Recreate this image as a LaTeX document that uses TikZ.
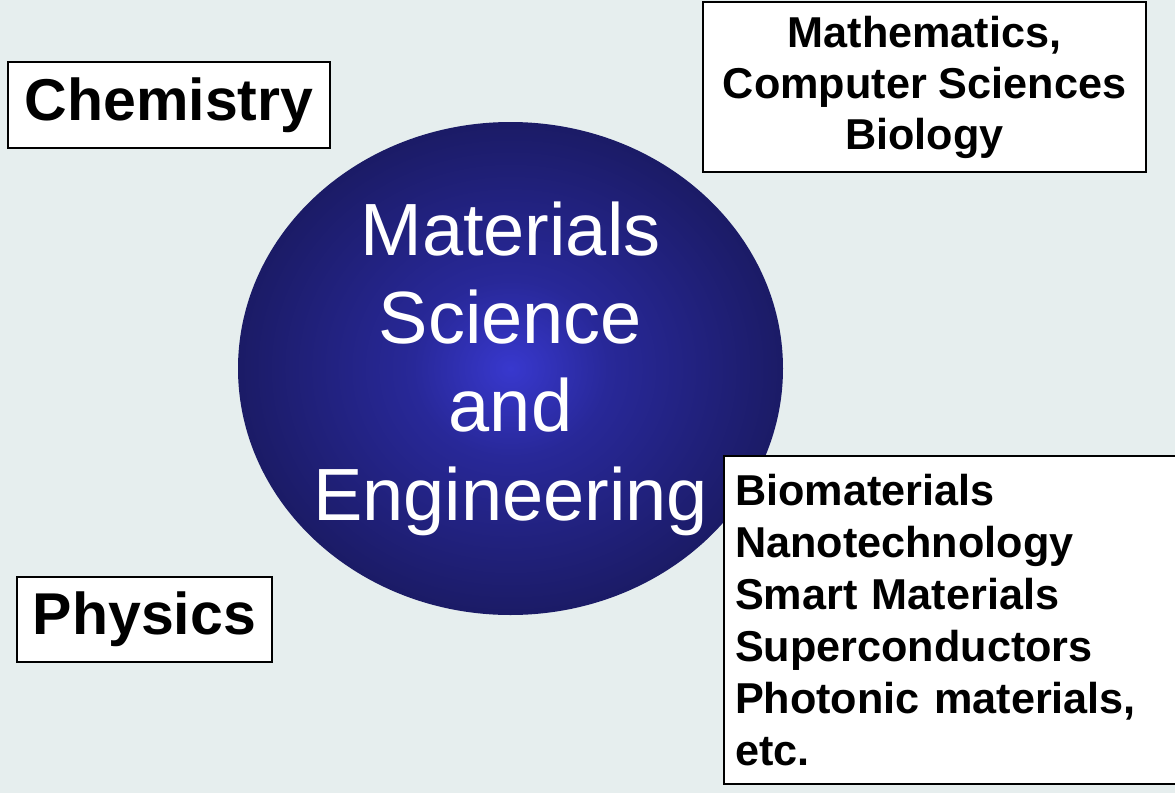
\documentclass[tikz,border=0pt]{standalone}
\usepackage{fontspec}
\setmainfont{Liberation Sans}
\usetikzlibrary{shapes.geometric}
\definecolor{paper}{RGB}{230,238,238}
\definecolor{discrim}{RGB}{27,27,102}
\definecolor{discmid}{RGB}{40,40,152}
\definecolor{disccore}{RGB}{56,56,206}
\pgfdeclareradialshading{discglow}{\pgfpoint{0bp}{0bp}}{color(0bp)=(disccore); color(9bp)=(discmid); color(25bp)=(discrim); color(50bp)=(discrim)}
\tikzset{
  fieldbox/.style = {shape=rectangle, draw, line width=1pt,
                     fill=white, inner sep=0pt,
                     font=\fontsize{29.5}{35}\selectfont\bfseries},
  topicbox/.style = {fieldbox, align=center,
                     font=\fontsize{21.6}{25.5}\selectfont\bfseries},
  listbox/.style  = {fieldbox, align=left, inner xsep=5.5pt,
                     font=\fontsize{21.6}{26}\selectfont\bfseries},
  hub/.style      = {ellipse, shading=discglow, inner ysep=0pt,
                     inner xsep=-2.5pt, text=white, align=center,
                     font=\fontsize{37}{44.2}\selectfont},
}
\begin{document}
\begin{tikzpicture}[x=0.5pt, y=-0.5pt]
    \useasboundingbox (0,0) rectangle (1175,793);
    \fill[paper] (0,0) rectangle (1175,793);

    \node [hub, minimum width=272.5pt, minimum height=246.5pt] (mse) at (510.5,368.5)
        {Materials\\Science\\and\\Engineering};

    \node [fieldbox, minimum width=161pt, minimum height=43pt] (chem) at (169,105) {Chemistry};
    \node [fieldbox, minimum width=127.5pt, minimum height=42.5pt] (phys) at (144.5,619.5) {Physics};
    \node [topicbox, minimum width=221.5pt, minimum height=85pt] (math) at (924.5,87)
        {Mathematics,\\Computer Sciences\\Biology};
    % box runs off the right edge of the page
    \node [listbox, anchor=north west, text width=230pt, minimum height=164pt] (apps) at (723,455)
        {Biomaterials\\Nanotechnology\\Smart Materials\\Superconductors\\Photonic materials,\\etc.};
\end{tikzpicture}
\end{document}
